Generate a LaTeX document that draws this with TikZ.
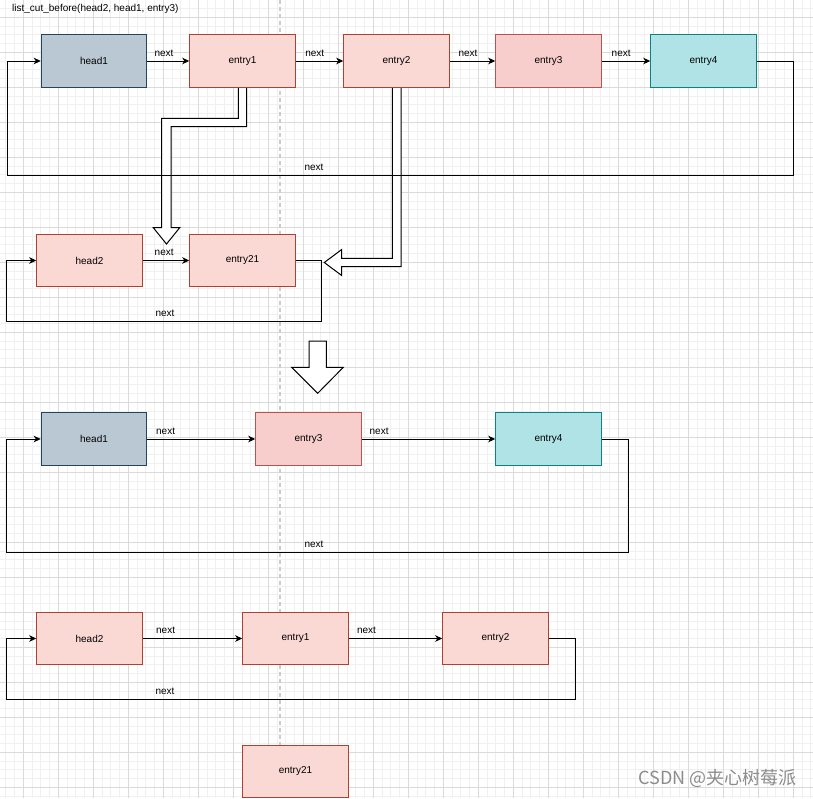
\documentclass[tikz,border=0pt]{standalone}
\usepackage{fontspec}
\setmainfont{Liberation Sans}
\newfontfamily\cjkfont{Noto Sans CJK SC}
\usetikzlibrary{arrows.meta}
\definecolor{gridminor}{HTML}{F0F0F0}
\definecolor{gridmajor}{HTML}{DADADA}
\definecolor{headfill}{HTML}{BAC8D3}
\definecolor{headdraw}{HTML}{23445D}
\definecolor{pinkfill}{HTML}{FAD9D5}
\definecolor{pinkdraw}{HTML}{AE4132}
\definecolor{redfill}{HTML}{F8CECC}
\definecolor{reddraw}{HTML}{B85450}
\definecolor{cyanfill}{HTML}{B0E3E6}
\definecolor{cyandraw}{HTML}{0E8088}
\begin{document}
\begin{tikzpicture}[
		x=1pt,y=-1pt,
		box/.style={draw,line width=1pt,minimum width=105.5pt,minimum height=52.5pt,inner sep=0pt,font=\fontsize{10}{12}\selectfont},
		headbox/.style={box,fill=headfill,draw=headdraw},
		pinkbox/.style={box,fill=pinkfill,draw=pinkdraw},
		redbox/.style={box,fill=redfill,draw=reddraw},
		cyanbox/.style={box,fill=cyanfill,draw=cyandraw},
		lbl/.style={font=\fontsize{10}{12}\selectfont,inner sep=0pt,above=4pt},
		link/.style={-{Stealth[length=7pt,width=6.5pt,inset=2pt]},line width=1pt},
		hollow/.style={fill=white,draw=black,line width=1pt,line join=miter},
	]
		\useasboundingbox (0,0) rectangle (813,798);
		\fill[white] (0,0) rectangle (813,798);
		
		% grid
		\foreach \g in {5.8,14.55,...,813}{
			\draw[gridminor,line width=0.7pt] (\g,0) -- (\g,798);
		}
		\foreach \g in {-0.2,8.55,...,798}{
			\draw[gridminor,line width=0.7pt] (0,\g) -- (813,\g);
		}
		\foreach \g in {23.3,58.3,...,813}{
			\draw[gridmajor,line width=0.9pt] (\g,0) -- (\g,798);
		}
		\foreach \g in {17.3,52.3,...,798}{
			\draw[gridmajor,line width=0.9pt] (0,\g) -- (813,\g);
		}
		\draw[black!20,line width=1.5pt,dash pattern=on 4pt off 3pt] (280,0) -- (280,745);
		
		\node[anchor=base west,inner sep=0pt,font=\fontsize{10}{12}\selectfont] (title) at (12,11.5) {list\_cut\_before(head2, head1, entry3)};
		
		% hollow arrows
		\draw[hollow] (238.3,87) -- (238.3,118.3) -- (161.7,118.3) -- (161.7,227.7) -- (153.3,227.7) -- (166.5,244) -- (179.7,227.7) -- (171,227.7) -- (171,126.7) -- (246.7,126.7) -- (246.7,87);
		\draw[hollow] (392.3,87) -- (392.3,258.3) -- (341.7,258.3) -- (341.7,249.5) -- (324.3,262.5) -- (341.7,275.5) -- (341.7,266.7) -- (401,266.7) -- (401,87);
		\draw[hollow] (309,341) -- (326.3,341) -- (326.3,367.3) -- (343.3,367.3) -- (317.7,393.3) -- (291.7,367.3) -- (309,367.3) -- cycle;
		
		% before
		\foreach \n/\x/\s/\t in {h1/94/headbox/head1, e1/242.5/pinkbox/entry1, e2/396.5/pinkbox/entry2, e3/548.5/redbox/entry3, e4/703.5/cyanbox/entry4}{
			\node[\s] (r1\n) at (\x,61) {\t};
		}
		\foreach \a/\b in {h1/e1, e1/e2, e2/e3, e3/e4}{
			\draw[link] (r1\a.east) -- node[lbl,pos=0.4]{next} (r1\b.west);
		}
		\draw[link] (r1e4.east) -| (793,175) -| (7,61) -- (r1h1.west);
		\node[lbl] (r1loop) at (314,175) {next};
		
		\node[pinkbox] (r2h2) at (89.5,260.5) {head2};
		\node[pinkbox] (r2e21) at (242.5,260.5) {entry21};
		\draw[link] (r2h2.east) -- node[lbl,pos=0.46]{next} (r2e21.west);
		\draw[link] (r2e21.east) -| (321,321) -| (6,260.5) -- (r2h2.west);
		\node[lbl] (r2loop) at (165,321) {next};
		
		% after
		\node[headbox] (r3h1) at (94,439) {head1};
		\node[redbox] (r3e3) at (308.5,439) {entry3};
		\node[cyanbox] (r3e4) at (548.5,439) {entry4};
		\draw[link] (r3h1.east) -- node[lbl,pos=0.17]{next} (r3e3.west);
		\draw[link] (r3e3.east) -- node[lbl,pos=0.13]{next} (r3e4.west);
		\draw[link] (r3e4.east) -| (628,552) -| (6,439) -- (r3h1.west);
		\node[lbl] (r3loop) at (314,552) {next};
		
		\node[pinkbox] (r4h2) at (89.5,638.5) {head2};
		\node[pinkbox] (r4e1) at (295.5,638.5) {entry1};
		\node[pinkbox] (r4e2) at (495.5,638.5) {entry2};
		\draw[link] (r4h2.east) -- node[lbl,pos=0.23]{next} (r4e1.west);
		\draw[link] (r4e1.east) -- node[lbl,pos=0.19]{next} (r4e2.west);
		\draw[link] (r4e2.east) -| (575,699) -| (6,638.5) -- (r4h2.west);
		\node[lbl] (r4loop) at (165,699) {next};
		
		\node[pinkbox] (r5e21) at (295.5,771.5) {entry21};
		
		\node[text=black!45,font=\cjkfont\fontsize{18}{20}\selectfont,anchor=base east,inner sep=0pt] (mark) at (797,784) {CSDN @夹心树莓派};
	\end{tikzpicture}
\end{document}
